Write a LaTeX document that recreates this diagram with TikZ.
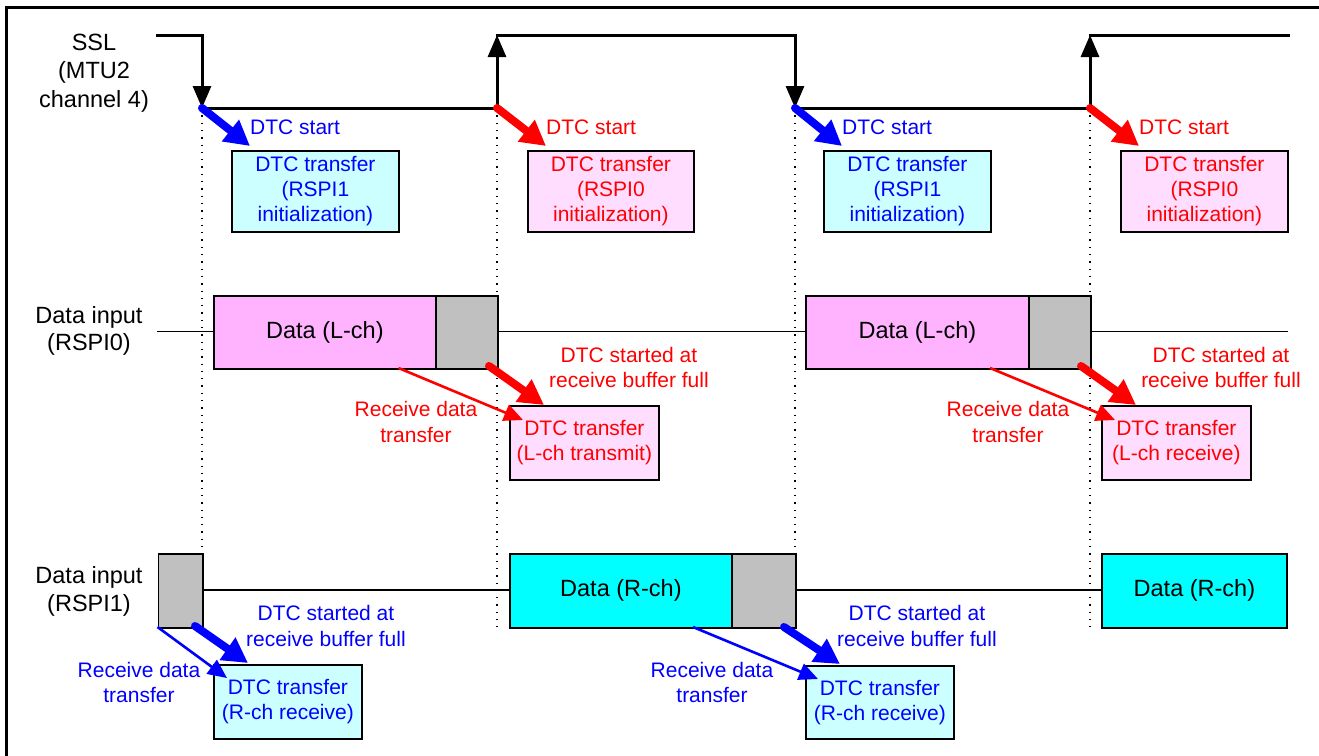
\documentclass[tikz,border=0pt]{standalone}
\usepackage{fontspec}
\setmainfont{Liberation Sans}
\usetikzlibrary{arrows.meta}
\definecolor{initblue}{HTML}{CCFFFF}
\definecolor{initpink}{HTML}{FFDDFF}
\definecolor{lchfill}{HTML}{FFB3FF}
\definecolor{rchfill}{HTML}{00FFFF}
\definecolor{grayfill}{HTML}{C0C0C0}
\begin{document}
\begin{tikzpicture}[x=1pt,y=-1pt,
  txt/.style={font=\fontsize{21}{25.5}\selectfont, inner sep=0pt, align=center},
  blk/.style={font=\fontsize{23.5}{27.5}\selectfont, inner sep=0pt, align=center},
  sigline/.style={line width=1.5pt},
  sslline/.style={line width=3pt, line cap=rect},
  ssledge/.style={line width=3pt, -{Triangle[length=22pt,width=18pt]}},
  dotline/.style={line width=1.3pt, dash pattern=on 1.3pt off 6pt},
  ibox/.style={draw, line width=1.8pt, inner sep=0pt, anchor=north west, align=center,
     font=\fontsize{21}{25}\selectfont},
  dbox/.style={draw, line width=1.8pt, inner sep=0pt, anchor=north west, align=center,
     font=\fontsize{23.5}{27}\selectfont, minimum height=73pt},
  thickarr/.style={line width=8pt, line cap=round, -{Triangle[length=25pt,width=26pt]}},
  thinarr/.style={line width=2.6pt, -{Triangle[length=19pt,width=17pt]}},
]
\useasboundingbox (0,0) rectangle (1319,755);
% frame
\draw[line width=2.5pt] (6.5,1000) -- (6.5,7.5) -- (1400,7.5);

% coordinates of SSL waveform
\coordinate (s0) at (157,35);
\coordinate (s1h) at (202,35);
\coordinate (s1l) at (202,108);
\coordinate (s2l) at (497,108);
\coordinate (s2h) at (497,35);
\coordinate (s3h) at (795,35);
\coordinate (s3l) at (795,108);
\coordinate (s4l) at (1090,108);
\coordinate (s4h) at (1090,35);
\coordinate (s5) at (1288,35);

% dotted guide lines
\coordinate (d1e) at (202,553);
\coordinate (d2e) at (497,627);
\coordinate (d3e) at (795,553);
\coordinate (d4e) at (1090,627);
\draw[dotline] (s1l) -- (d1e);
\draw[dotline] (s2l) -- (d2e);
\draw[dotline] (s3l) -- (d3e);
\draw[dotline] (s4l) -- (d4e);

% SSL waveform
\draw[sslline] (s0) -- (s1h);
\draw[ssledge] (s1h) -- (s1l);
\draw[sslline] (s1l) -- (s2l);
\draw[ssledge] (s2l) -- (s2h);
\draw[sslline] (s2h) -- (s3h);
\draw[ssledge] (s3h) -- (s3l);
\draw[sslline] (s3l) -- (s4l);
\draw[ssledge] (s4l) -- (s4h);
\draw[sslline] (s4h) -- (s5);

% left labels
\node[blk, font=\fontsize{23.5}{28.5}\selectfont] (lssl) at (94,73) {SSL\\(MTU2\\channel 4)};
\node[blk] (lrspi0) at (89,331) {Data input\\(RSPI0)};
\node[blk] (lrspi1) at (89,591.5) {Data input\\(RSPI1)};

% initialization boxes
\node[ibox, fill=initblue, text=blue, minimum width=167pt, minimum height=81pt] (i1) at (231,150) {DTC transfer\\(RSPI1\\initialization)};
\node[ibox, fill=initpink, text=red, minimum width=166pt, minimum height=81pt] (i2) at (527,150) {DTC transfer\\(RSPI0\\initialization)};
\node[ibox, fill=initblue, text=blue, minimum width=167pt, minimum height=81pt] (i3) at (823,150) {DTC transfer\\(RSPI1\\initialization)};
\node[ibox, fill=initpink, text=red, minimum width=167pt, minimum height=81pt] (i4) at (1120,150) {DTC transfer\\(RSPI0\\initialization)};

% DTC start arrows
\coordinate (ta1) at (250,146);
\coordinate (ta2) at (546,146);
\coordinate (ta3) at (842,146);
\coordinate (ta4) at (1139,146);
\draw[thickarr, blue] (s1l) -- (ta1);
\draw[thickarr, red] (s2l) -- (ta2);
\draw[thickarr, blue] (s3l) -- (ta3);
\draw[thickarr, red] (s4l) -- (ta4);
\node[txt, text=blue, anchor=west] (st1) at (250,127) {DTC start};
\node[txt, text=red, anchor=west] (st2) at (546,127) {DTC start};
\node[txt, text=blue, anchor=west] (st3) at (842,127) {DTC start};
\node[txt, text=red, anchor=west] (st4) at (1139,127) {DTC start};

% middle row (RSPI0)
\coordinate (m0) at (157,331.5);
\coordinate (m1) at (213,331.5);
\coordinate (m2) at (497,331.5);
\coordinate (m3) at (805,331.5);
\coordinate (m4) at (1090,331.5);
\coordinate (m5) at (1288,331.5);
\draw[sigline] (m0) -- (m1);
\draw[sigline] (m2) -- (m3);
\draw[sigline] (m4) -- (m5);
\node[dbox, fill=lchfill, minimum width=222pt] (l1) at (213,295) {Data (L-ch)};
\node[dbox, fill=grayfill, minimum width=62pt] (g1) at (435,295) {};
\node[dbox, fill=lchfill, minimum width=223pt] (l2) at (805,295) {Data (L-ch)};
\node[dbox, fill=grayfill, minimum width=62pt] (g2) at (1028,295) {};

\node[ibox, fill=initpink, text=red, minimum width=149pt, minimum height=74pt] (x1) at (509,405) {DTC transfer\\(L-ch transmit)};
\node[ibox, fill=initpink, text=red, minimum width=149pt, minimum height=74pt] (x2) at (1101,405) {DTC transfer\\(L-ch receive)};

\coordinate (rb1s) at (489,366);
\coordinate (rb1e) at (544,405);
\coordinate (rb2s) at (1081,366);
\coordinate (rb2e) at (1136,405);
\draw[thickarr, red] (rb1s) -- (rb1e);
\draw[thickarr, red] (rb2s) -- (rb2e);
\coordinate (rd1s) at (398.5,368);
\coordinate (rd1e) at (523,420);
\coordinate (rd2s) at (990,368);
\coordinate (rd2e) at (1115,420);
\draw[thinarr, red] (rd1s) -- (rd1e);
\draw[thinarr, red] (rd2s) -- (rd2e);
\node[txt, text=red] (bf1) at (629,367.5) {DTC started at\\receive buffer full};
\node[txt, text=red] (bf2) at (1221,367.5) {DTC started at\\receive buffer full};
\node[txt, text=red] (rt1) at (416,422) {Receive data\\transfer};
\node[txt, text=red] (rt2) at (1008,422) {Receive data\\transfer};

% bottom row (RSPI1)
\coordinate (n1) at (202,590);
\coordinate (n2) at (509,590);
\coordinate (n3) at (795,590);
\coordinate (n4) at (1101,590);
\draw[sigline] (n1) -- (n2);
\draw[sigline] (n3) -- (n4);
\node[dbox, fill=grayfill, minimum width=44.5pt, minimum height=74pt] (g3) at (157.5,553) {};
\node[dbox, fill=rchfill, minimum width=222pt, minimum height=74pt] (r1) at (509,553) {Data (R-ch)};
\node[dbox, fill=grayfill, minimum width=64pt, minimum height=74pt] (g4) at (731,553) {};
\node[dbox, fill=rchfill, minimum width=185pt, minimum height=74pt] (r2) at (1101,553) {Data (R-ch)};

\node[ibox, fill=initblue, text=blue, minimum width=148pt, minimum height=74pt] (y1) at (213,664) {DTC transfer\\(R-ch receive)};
\node[ibox, fill=initblue, text=blue, minimum width=148pt, minimum height=73pt] (y2) at (805,665) {DTC transfer\\(R-ch receive)};

\coordinate (bb1s) at (195,626);
\coordinate (bb1e) at (248,663);
\coordinate (bb2s) at (784,627);
\coordinate (bb2e) at (840,664);
\draw[thickarr, blue] (bb1s) -- (bb1e);
\draw[thickarr, blue] (bb2s) -- (bb2e);
\coordinate (bd1s) at (157.5,627);
\coordinate (bd1e) at (227,678);
\coordinate (bd2s) at (693,627);
\coordinate (bd2e) at (818,679);
\draw[thinarr, blue] (bd1s) -- (bd1e);
\draw[thinarr, blue] (bd2s) -- (bd2e);
\node[txt, text=blue] (bf3) at (326,626) {DTC started at\\receive buffer full};
\node[txt, text=blue] (bf4) at (917,626) {DTC started at\\receive buffer full};
\node[txt, text=blue] (rt3) at (139,682.5) {Receive data\\transfer};
\node[txt, text=blue] (rt4) at (712,682.5) {Receive data\\transfer};
\end{tikzpicture}
\end{document}
